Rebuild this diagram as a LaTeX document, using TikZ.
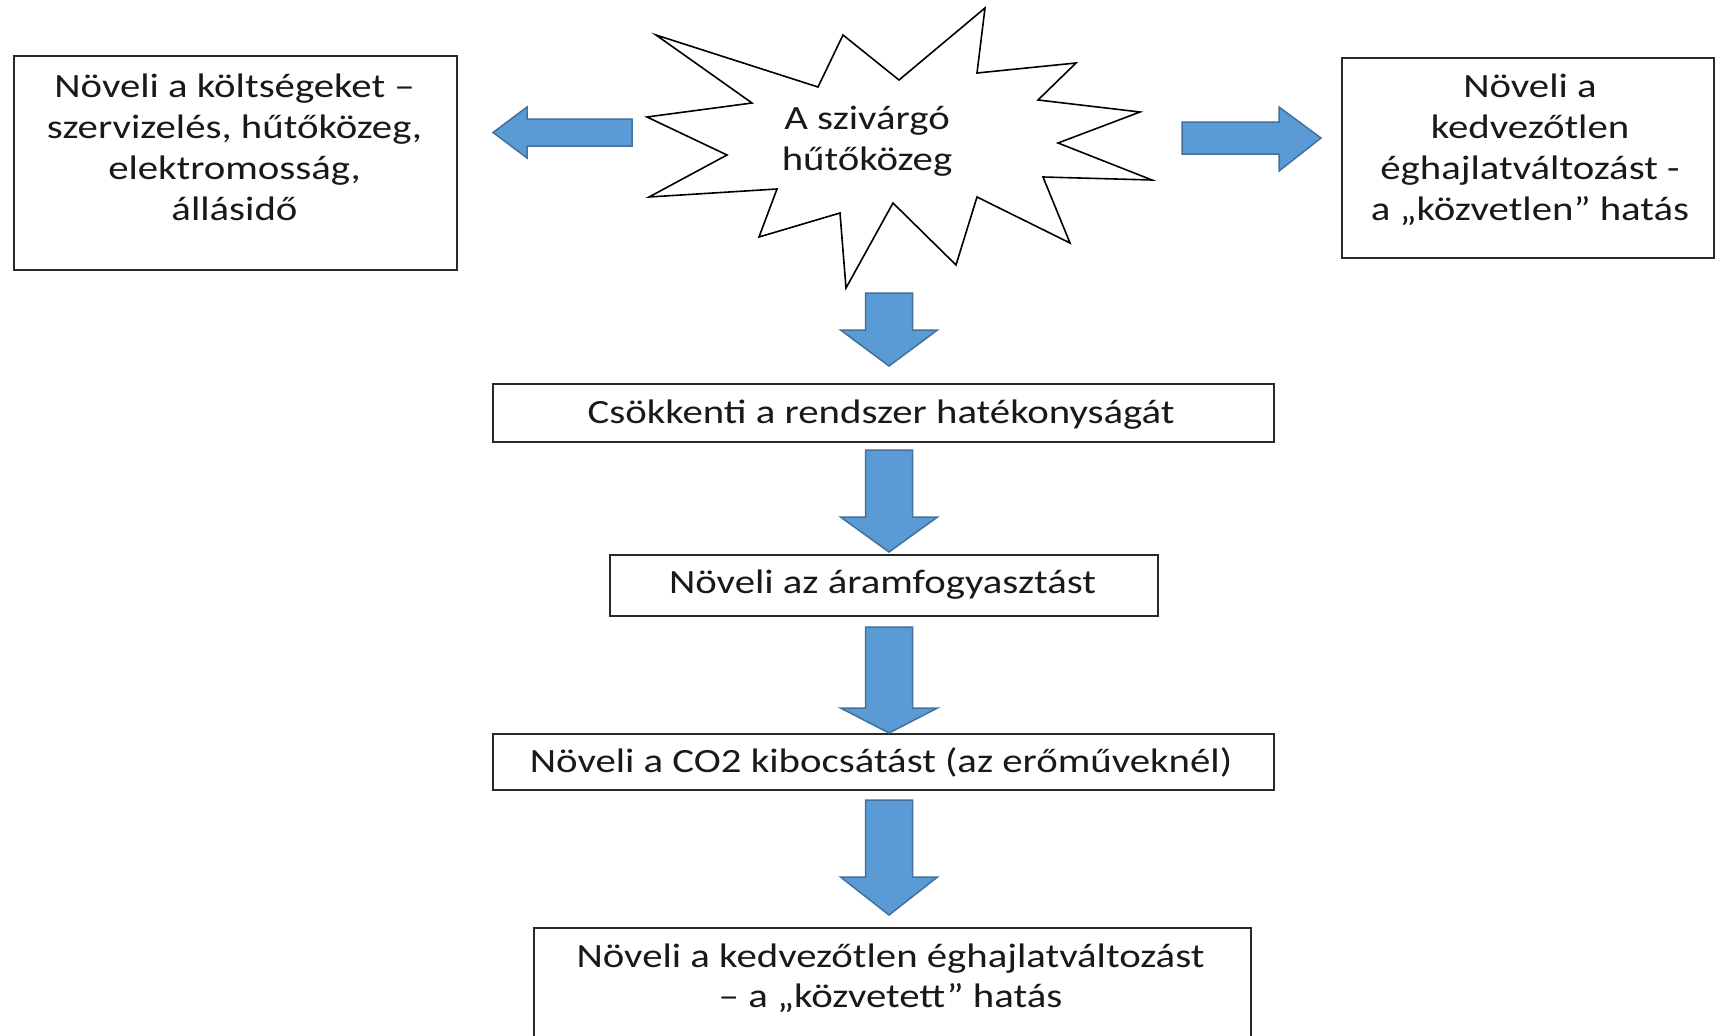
\documentclass[tikz,border=0pt]{standalone}
\usepackage{fontspec}
\setmainfont{Carlito}[FakeStretch=1.2]
\definecolor{arrowfill}{RGB}{91,155,213}
\definecolor{arrowline}{RGB}{65,113,156}
\definecolor{boxline}{RGB}{40,40,40}
\begin{document}
\begin{tikzpicture}[x=1pt,y=-1pt,
  box/.style={draw=boxline, line width=1.8pt, inner sep=0pt, fill=white},
  txt/.style={font=\fontsize{34}{41}\selectfont, align=center, inner sep=0pt, text=black!90},
  barrow/.style={fill=arrowfill, draw=arrowline, line width=1.5pt, line join=miter},
  starline/.style={draw=black, line width=1.6pt, line join=miter, fill=white},
  pics/darr/.style 2 args={code={\draw[barrow] (-23.5,0) -- (23.5,0) -- (23.5,#1) -- (48.5,#1) -- (0,#2) -- (-48.5,#1) -- (-23.5,#1) -- cycle;}}]
\fill[white] (0,0) rectangle (1716,1036);
\useasboundingbox (0,0) rectangle (1716,1036);
\clip (0,0) rectangle (1716,1036);

% boxes
\node[box, minimum width=443pt, minimum height=214pt, anchor=north west] (lbox) at (13,55) {};
\node[box, minimum width=372pt, minimum height=200pt, anchor=north west] (rbox) at (1341,57) {};
\node[box, minimum width=781pt, minimum height=58pt, anchor=north west] (b1) at (492,383) {};
\node[box, minimum width=548pt, minimum height=61pt, anchor=north west] (b2) at (609,554) {};
\node[box, minimum width=781pt, minimum height=56pt, anchor=north west] (b3) at (492,733) {};
\node[box, minimum width=717pt, minimum height=133pt, anchor=north west] (b4) at (533,927) {};

% star
\draw[starline] (656,35) -- (818,87) -- (843,35) -- (899,80) -- (985,8) -- (977,73)
  -- (1076,63) -- (1038,100) -- (1140,112) -- (1058,143) -- (1152,180) -- (1043,177)
  -- (1070,243) -- (977,197) -- (956,265) -- (893,203) -- (846,288) -- (840,213)
  -- (759,237) -- (777,189) -- (649,197) -- (727,155) -- (647,117) -- (752,103) -- cycle;

% texts
\node[txt] (ltext) at (234.5,150.3) {\strut Növeli a költségeket –\\\strut szervizelés, hűtőközeg,\\\strut elektromosság,\\\strut állásidő};
\node[txt] (rtext) at (1530,150.3) {\strut Növeli a\\\strut kedvezőtlen\\\strut éghajlatváltozást -\\\strut a „közvetlen” hatás};
\node[txt] (stext) at (867,141.3) {\strut A szivárgó\\\strut hűtőközeg};
\node[txt] (t1) at (881,415) {\strut Csökkenti a rendszer hatékonyságát};
\node[txt] (t2) at (882.5,585) {\strut Növeli az áramfogyasztást};
\node[txt] (t3) at (881,764) {\strut Növeli a CO2 kibocsátást (az erőműveknél)};
\node[txt, font=\fontsize{34}{40}\selectfont] (t4) at (890.5,979) {\strut Növeli a kedvezőtlen éghajlatváltozást\\\strut – a „közvetett” hatás};

% block arrows
\draw[barrow] (632,119) -- (527,119) -- (527,107) -- (493,132.5) -- (527,158) -- (527,146) -- (632,146) -- cycle;
\draw[barrow] (1182,122) -- (1279,122) -- (1279,107) -- (1321,138) -- (1279,171) -- (1279,154) -- (1182,154) -- cycle;
\pic (a1) at (889,293) {darr={37}{73}};
\pic (a2) at (889,450) {darr={67}{102}};
\pic (a3) at (889,627) {darr={81}{106}};
\pic (a4) at (889,800) {darr={77}{115}};
\end{tikzpicture}
\end{document}
